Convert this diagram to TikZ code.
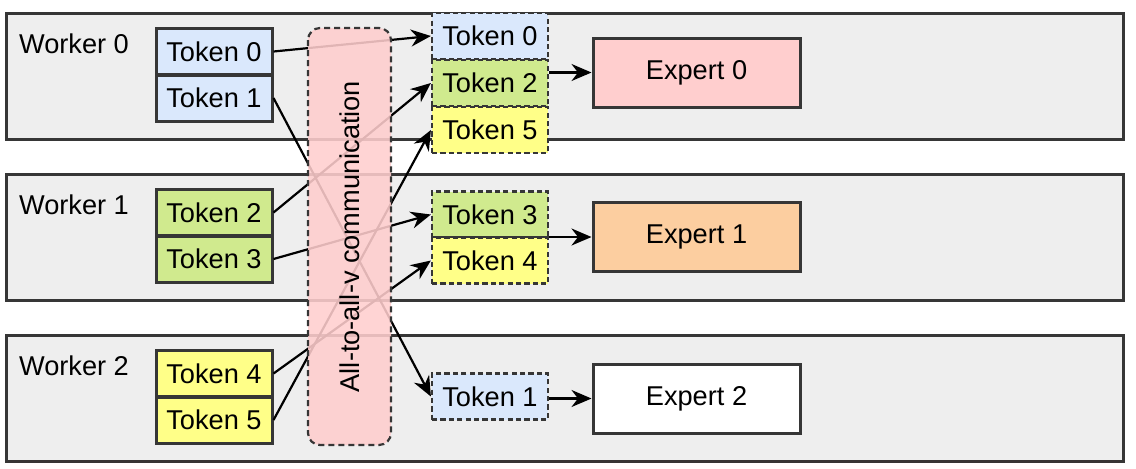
\documentclass[tikz,border=0pt]{standalone}
\usepackage{fontspec}
\setmainfont{Liberation Sans}
\definecolor{band}{RGB}{238,238,238}
\definecolor{ink}{RGB}{54,54,54}
\definecolor{tokblue}{RGB}{218,232,252}
\definecolor{tokgreen}{RGB}{208,234,142}
\definecolor{tokyellow}{RGB}{255,255,136}
\definecolor{commpink}{RGB}{255,206,206}
\definecolor{exporange}{RGB}{252,206,160}
\usetikzlibrary{arrows.meta,positioning,calc}

\begin{document}
\begin{tikzpicture}[x=0.5pt,y=-0.5pt,
    every node/.style={font=\fontsize{13.6}{16}\selectfont,text=black},
    worker/.style={draw=ink,line width=1.5pt,fill=band},
    srctok/.style={draw=ink,line width=1.5pt,minimum width=58pt,minimum height=23pt,inner sep=0pt},
    dsttok/.style={draw=ink,line width=1.1pt,dash pattern=on 2.6pt off 1.6pt,minimum width=58pt,minimum height=23pt,inner sep=0pt},
    expert/.style={draw=ink,line width=1.5pt,minimum width=103.5pt,minimum height=34.5pt,inner sep=0pt},
    send/.style={-{Stealth[length=10pt,width=8.5pt]},line width=1.1pt},
    commbox/.style={draw=ink,line width=1.1pt,dash pattern=on 3pt off 2pt,fill=commpink,fill opacity=0.88,
      text opacity=1,rounded corners=6pt,minimum width=208.5pt,minimum height=41.5pt,inner sep=0pt}]
  \useasboundingbox (0,0) rectangle (1136,468);
  % worker bands
  \draw[worker] (6,13) rectangle (1123,139);
  \draw[worker] (6,174) rectangle (1123,300);
  \draw[worker] (6,335) rectangle (1123,461);
  \node[anchor=west] (w0) at (12,44) {Worker 0};
  \node[anchor=west] (w1) at (12,205) {Worker 1};
  \node[anchor=west] (w2) at (12,366) {Worker 2};
  % tokens on each worker
  \node[srctok,fill=tokblue] (s0) at (214,51.5) {Token 0};
  \node[srctok,fill=tokblue] (s1) at (214,98) {Token 1};
  \node[srctok,fill=tokgreen] (s2) at (214,212.5) {Token 2};
  \node[srctok,fill=tokgreen] (s3) at (214,259) {Token 3};
  \node[srctok,fill=tokyellow] (s4) at (214,373.5) {Token 4};
  \node[srctok,fill=tokyellow] (s5) at (214,420) {Token 5};
  % tokens after dispatch
  \node[dsttok,fill=tokblue] (d0) at (490,36) {Token 0};
  \node[dsttok,fill=tokgreen] (d2) at (490,83) {Token 2};
  \node[dsttok,fill=tokyellow] (d5) at (490,130) {Token 5};
  \node[dsttok,fill=tokgreen] (d3) at (490,214.5) {Token 3};
  \node[dsttok,fill=tokyellow] (d4) at (490,260.5) {Token 4};
  \node[dsttok,fill=tokblue] (d1) at (490,396.5) {Token 1};
  % experts
  \node[expert,fill=commpink] (e0) at (696.5,72.5) {Expert 0};
  \node[expert,fill=exporange] (e1) at (696.5,237) {Expert 1};
  \node[expert,fill=white] (e2) at (696.5,398.5) {Expert 2};
  % all-to-all-v
  \draw[send] (s0.east) -- (d0.west);
  \draw[send] (s1.east) -- (d1.west);
  \draw[send] (s2.east) -- (d2.west);
  \draw[send] (s3.east) -- (d3.west);
  \draw[send] (s4.east) -- (d4.west);
  \draw[send] (s5.east) -- (d5.west);
  \node[commbox,rotate=90] (comm) at (349.5,236.5) {All-to-all-v communication};
  % to experts
  \draw[send] (e0.west -| d2.east) -- (e0.west);
  \draw[send] (e1.west -| d3.east) -- (e1.west);
  \draw[send] (e2.west -| d1.east) -- (e2.west);
\end{tikzpicture}
\end{document}
